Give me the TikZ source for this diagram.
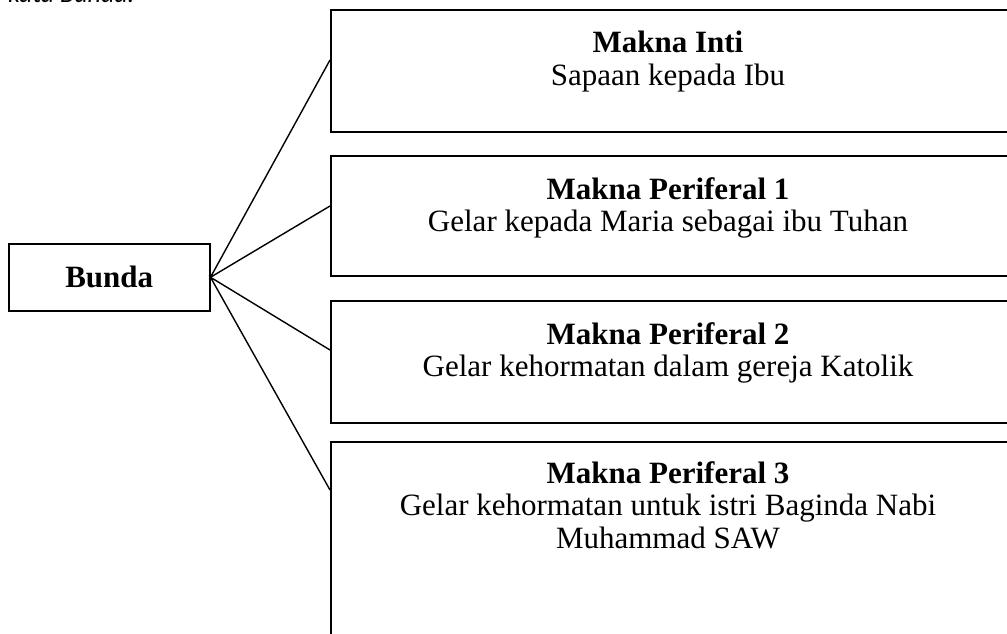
\documentclass[tikz,border=0pt]{standalone}
\usepackage{fontspec}
\setmainfont{Liberation Serif}
\newfontfamily\catatanfont{Carlito}
\tikzset{>=stealth}
\tikzset{kotak/.style={draw, line width=1.5pt, anchor=north west, inner sep=0pt},
  isi/.style={anchor=north, align=center, inner sep=0pt, font=\fontsize{31}{32.5}\selectfont}}

\begin{document}
\begin{tikzpicture}[x=1pt,y=-1pt]
\useasboundingbox (0,0) rectangle (1007,633);
\node[anchor=base west, inner sep=0pt, font=\catatanfont\itshape\fontsize{26}{30}\selectfont] (judul) at (8,2) {kata Bunda.};
\node[kotak, minimum width=201pt, minimum height=67pt, font=\bfseries\fontsize{31}{34}\selectfont] (bunda) at (8,243) {Bunda};
\node[kotak, minimum width=690pt, minimum height=122pt] (inti) at (330,9) {};
\node[kotak, minimum width=690pt, minimum height=120pt] (per1) at (330,155) {};
\node[kotak, minimum width=690pt, minimum height=122pt] (per2) at (330,300) {};
\node[kotak, minimum width=690pt, minimum height=220pt] (per3) at (330,441) {};
\node[isi] (tinti) at (668,31) {\textbf{Makna Inti}\\Sapaan kepada Ibu};
\node[isi] (tper1) at (668,177) {\textbf{Makna Periferal 1}\\Gelar kepada Maria sebagai ibu Tuhan};
\node[isi] (tper2) at (668,322) {\textbf{Makna Periferal 2}\\Gelar kehormatan dalam gereja Katolik};
\node[isi] (tper3) at (668,461) {\textbf{Makna Periferal 3}\\Gelar kehormatan untuk istri Baginda Nabi\\Muhammad SAW};
\coordinate (u1) at (330,60);
\coordinate (u2) at (330,206);
\coordinate (u3) at (330,350);
\coordinate (u4) at (330,490);
\draw[line width=1.4pt] (u1) -- (bunda.east) -- (u2);
\draw[line width=1.4pt] (u3) -- (bunda.east) -- (u4);
\end{tikzpicture}
\end{document}
